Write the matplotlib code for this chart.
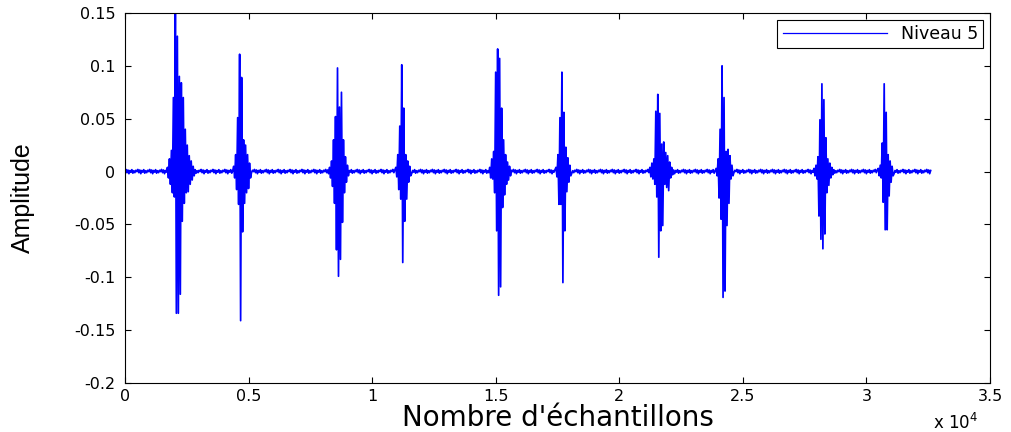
import matplotlib.pyplot as plt
import numpy as np

# amplitudes des pics (alternes +/-), une liste par salve
salve1 = [0.004, -0.006, 0.012, -0.012, 0.02, -0.02, 0.07, -0.024, 0.155, -0.134, 0.128, -0.134,
          0.09, -0.116, 0.084, -0.047, 0.07, -0.03, 0.04, -0.02, 0.025, -0.019, 0.015, -0.012,
          0.01, -0.008, 0.005, -0.004]
salve2 = [0.005, -0.006, 0.016, -0.017, 0.051, -0.031, 0.111, -0.141, 0.089, -0.057, 0.03, -0.03,
          0.025, -0.02, 0.016, -0.016, 0.008, -0.006]
salve3 = [0.004, -0.006, 0.01, -0.014, 0.03, -0.03, 0.052, -0.074, 0.098, -0.099, 0.061, -0.083,
          0.075, -0.048, 0.03, -0.02, 0.014, -0.01, 0.006, -0.004]
salve4 = [0.004, -0.005, 0.016, -0.017, 0.043, -0.026, 0.101, -0.086, 0.06, -0.047, 0.016, -0.026,
          0.01, -0.01, 0.005, -0.004]
salve5 = [0.004, -0.006, 0.012, -0.007, 0.019, -0.02, 0.094, -0.056, 0.116, -0.117, 0.107, -0.109,
          0.06, -0.034, 0.03, -0.022, 0.016, -0.012, 0.009, -0.008, 0.005, -0.004]
salve6 = [0.004, -0.005, 0.016, -0.031, 0.051, -0.031, 0.094, -0.105, 0.056, -0.056, 0.023, -0.019,
          0.013, -0.01, 0.006, -0.004]
salve7 = [0.004, -0.005, 0.008, -0.007, 0.012, -0.012, 0.057, -0.024, 0.073, -0.081, 0.055, -0.056,
          0.026, -0.051, 0.028, -0.012, 0.018, -0.015, 0.015, -0.018, 0.009, -0.006, 0.004, -0.003]
salve8 = [0.003, -0.004, 0.012, -0.025, 0.04, -0.045, 0.1, -0.119, 0.07, -0.113, 0.019, -0.051,
          0.021, -0.03, 0.015, -0.007, 0.006, -0.004]
salve9 = [0.003, -0.004, 0.006, -0.007, 0.014, -0.042, 0.049, -0.064, 0.083, -0.073, 0.068, -0.059,
          0.032, -0.02, 0.012, -0.013, 0.008, -0.006, 0.004, -0.003]
salve10 = [0.003, -0.004, 0.006, -0.006, 0.027, -0.029, 0.083, -0.055, 0.056, -0.055, 0.016, -0.023,
           0.01, -0.01, 0.005, -0.004]
salves = [salve1, salve2, salve3, salve4, salve5, salve6, salve7, salve8, salve9, salve10]

# echantillon de debut de chaque salve
debuts = [1700, 4370, 8250, 10960, 14750, 17430, 21220, 23910, 27870, 30450]
fin = 32600

# petit bruit de fond entre les salves
bruit = [0.0, 0.002, -0.001, 0.0015, -0.002, 0.001, -0.0005, 0.0018, -0.0015, 0.0008,
         -0.001, 0.0012]

pas_salve = 40
pas_bruit = 40

xs, ys = [], []
pos = 0
k = 0
for d, s in zip(debuts, salves):
    while pos < d:
        xs.append(pos)
        ys.append(bruit[k % len(bruit)])
        k += 1
        pos += pas_bruit
    for v in s:
        xs.append(pos)
        ys.append(v)
        pos += pas_salve
while pos <= fin:
    xs.append(pos)
    ys.append(bruit[k % len(bruit)])
    k += 1
    pos += pas_bruit

plt.rcParams['font.family'] = ['DejaVu Sans']

fig = plt.figure(figsize=(10.11, 4.32), dpi=100)
ax = fig.add_axes([0.1236, 0.1134, 0.8556, 0.8565])

ax.plot(xs, ys, '-', color='#0000ff', linewidth=1.25, label='Niveau 5')

ax.set_xlim(0, 35000)
ax.set_ylim(-0.2, 0.15)
ax.set_xticks(np.arange(0, 35001, 5000))
ax.set_xticklabels(['0', '0.5', '1', '1.5', '2', '2.5', '3', '3.5'])
ax.set_yticks([-0.2, -0.15, -0.1, -0.05, 0, 0.05, 0.1, 0.15])
ax.set_yticklabels(['-0.2', '-0.15', '-0.1', '-0.05', '0', '0.05', '0.1', '0.15'])
ax.tick_params(direction='in', top=True, right=True, labelsize=11.5, length=4)
ax.tick_params(axis='y', pad=7)
ax.tick_params(axis='x', pad=4)
for sp in ax.spines.values():
    sp.set_linewidth(0.8)

ax.set_xlabel("Nombre d'échantillons", fontsize=20, labelpad=0)
ax.set_ylabel('Amplitude', fontsize=18, family='Liberation Sans')
ax.yaxis.set_label_coords(-0.104, 0.5)
fig.text(0.923, 0.008, r'x 10$^4$', fontsize=12)

leg = ax.legend(loc='upper right', bbox_to_anchor=(0.992, 0.981), fontsize=12.5,
                fancybox=False, edgecolor='black', framealpha=1, borderpad=0.3,
                borderaxespad=0, handlelength=6.0, handletextpad=0.8)
leg.get_frame().set_linewidth(0.8)
leg.get_lines()[0].set_linewidth(0.9)

fig.savefig('out.png', dpi=100)
